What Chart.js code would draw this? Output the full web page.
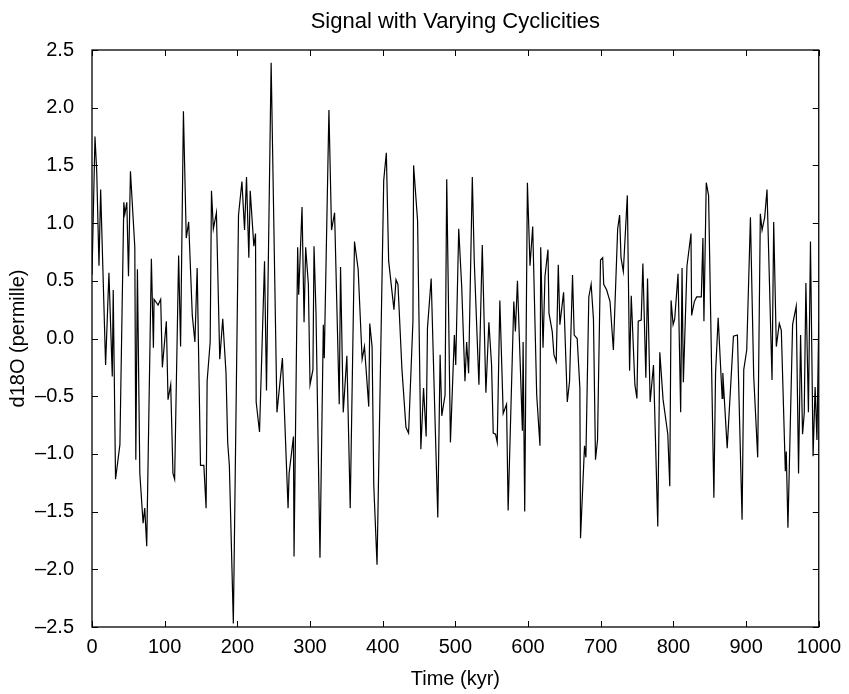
<!DOCTYPE html>
<html>
<head>
<meta charset="utf-8">
<script src="https://cdn.jsdelivr.net/npm/chart.js@4/dist/chart.umd.min.js"></script>
<style>
  html,body{margin:0;padding:0;background:#fff;}
  #wrap{width:849px;height:694px;}
</style>
</head>
<body>
<div id="wrap"><canvas id="c"></canvas></div>
<script>
/* Signal with Varying Cyclicities — d18O vs time */
const timeKyr=[0,4.1,6.5,9.6,11.9,18.7,23.3,27.9,29.2,32.4,38.4,43.8,45.2,47.9,50.2,52.9,58.9,60.3,62.5,65.8,70.3,72.6,75.3,81.7,84.5,85.4,90.9,94.5,96.8,102.3,104.6,108.3,111.4,113.7,119.2,121.9,125.8,
  129.7,133,138,141.6,144.7,149.3,153.9,157,158.4,162.6,164.4,167,171.2,175.8,179.9,184.4,186.7,189,194.5,201.6,206.3,209.9,212.6,215.8,217.7,222.7,225,225.9,230.5,237.4,240.1,246.5,254.5,
  262,269.8,271.2,277.2,278,283,284.4,289,291.8,294,297.7,300,304,305.5,308.2,313.7,318.3,319.6,326,329.6,333.8,340.2,342,345.7,350.7,355.3,361.2,366.2,371.7,374.9,380.8,382.2,385.4,
  387.7,392.2,401.4,405,408.2,415.5,418.3,421,426.5,432,435.6,441.6,442.5,448,452.5,456.2,459.8,461.6,466.7,471.5,475.8,479,481.3,485.8,488.1,493.2,498.6,500.5,504.6,508.7,513.2,515.5,518.2,
  523.3,526,532.4,537,542,546.1,549.8,552.1,555.3,557.6,561.2,565.8,570.4,572.6,580.4,582.6,585.4,589.5,592.2,593.2,595.4,599.1,602.7,606.4,611.9,616.4,617.4,620.6,623.3,627.4,628.8,633.3,635.6,638.8,641.6,643.8,
  648.9,654,657.1,661.2,663.5,667.6,671.3,672.2,677.7,679.6,683.6,686.8,690,692.8,695.6,699.7,702.7,704.1,708.2,712.8,717.4,723.3,726,727.9,731.1,736.6,739.7,742,747,749.8,751.6,755.7,758,762.1,764.4,768,772.6,
  778.5,781.3,785.8,792.3,795,796.8,799.6,801.8,806.4,810,811.9,813.7,818.7,824.2,825.1,828.8,832,838.4,840.6,842,845.2,848.4,855.7,858,861.6,867.1,868,874,882.6,888.1,894.5,896.8,900.9,906,
  910.5,916,919.6,922,925.6,928.8,935.7,938,941.6,945.7,948.5,954,955.3,957.6,964,969,972.2,975,977.7,980,982.3,985.8,988.6,992.2,995,997.5,1000];
const d18O=[0.55,1.75,1.45,0.63,1.29,-0.23,0.57,-0.33,0.42,-1.22,-0.92,1.18,1.08,1.18,0.54,1.45,0.79,-1.05,0.6,-1.17,-1.6,-1.47,-1.8,0.69,-0.08,0.34,0.29,0.34,-0.25,0.15,-0.53,-0.4,-1.17,-1.22,0.72,-0.07,1.97,
  0.87,1.01,0.2,-0.03,0.61,-1.1,-1.1,-1.47,-0.37,-0.03,1.28,0.95,1.09,-0.18,0.17,-0.3,-0.9,-1.1,-2.47,1.07,1.36,0.94,1.4,0.7,1.28,0.8,0.91,-0.55,-0.81,0.67,-0.45,2.39,-0.64,
  -0.17,-1.47,-1.17,-0.85,-1.89,0.79,0.38,1.14,0.14,0.79,0.47,-0.4,-0.27,0.8,0.23,-1.9,0.12,-0.17,1.98,0.94,1.09,-0.57,0.62,-0.64,-0.15,-1.47,0.84,0.6,-0.18,-0.07,-0.59,0.13,-0.07,
  -1.27,-1.96,1.37,1.61,0.67,0.25,0.51,0.47,-0.27,-0.77,-0.82,0.15,1.5,1.02,-0.96,-0.43,-0.85,0.09,0.52,-0.59,-1.55,-0.14,-0.67,-0.49,1.38,-0.9,0.03,-0.23,0.95,0.45,-0.37,-0.03,-0.3,
  1.4,0.67,-0.4,0.81,-0.47,0.14,-0.23,-0.82,-0.83,-0.9,0.33,-0.65,-0.57,-1.49,0.32,0.06,0.5,-0.27,-0.8,-0.03,-1.5,1.35,0.63,0.97,-0.49,-0.93,0.79,-0.08,0.54,0.77,0.22,0.06,-0.14,-0.2,0.64,0.12,
  0.4,-0.55,-0.37,0.55,0.03,0,-0.43,-1.73,-0.93,-1.03,0.36,0.47,0.17,-1.05,-0.88,0.68,0.7,0.47,0.42,0.32,-0.1,0.95,1.07,0.7,0.58,1.24,-0.28,0.37,-0.4,-0.52,0.15,0.16,0.65,-0.34,0.52,-0.55,-0.23,
  -1.63,-0.12,-0.53,-0.83,-1.28,0.33,0.12,0.17,0.56,-0.64,0.61,-0.38,0.63,0.91,0.2,0.32,0.36,0.36,0.87,0.15,1.35,1.24,-1.38,-0.3,0.18,-0.52,-0.3,-0.95,0.02,0.03,-1.57,-0.27,-0.1,1.05,
  -0.33,-1.03,1.08,0.94,1.05,1.29,-0.36,1.01,-0.07,0.13,0.07,-1.15,-0.98,-1.64,0.12,0.28,-1.17,0.03,-0.83,-0.65,0.48,-0.64,0.84,-1.02,-0.42,-0.88,0.15];
const xTicks=[0,100,200,300,400,500,600,700,800,900,1000];
const yTicks=[-2.5,-2,-1.5,-1,-0.5,0,0.5,1,1.5,2,2.5];

(function(){
  const FONT='"Liberation Sans", Arial, Helvetica, sans-serif', INK='#000';
  const pts=timeKyr.map((t,i)=>({x:t,y:d18O[i]}));

  // frame on all four sides + inward tick marks (ticks mirrored top/right)
  const frameTicks={id:'frameTicks',afterDraw(c){
    const {ctx,chartArea:a,scales:{x,y}}=c, L=6;
    ctx.save();ctx.strokeStyle=INK;ctx.lineWidth=1.3;
    ctx.strokeRect(a.left,a.top,a.right-a.left,a.bottom-a.top);
    ctx.lineWidth=1;ctx.beginPath();
    x.ticks.forEach(t=>{const p=Math.round(x.getPixelForValue(t.value))+0.5;
      ctx.moveTo(p,a.bottom);ctx.lineTo(p,a.bottom-L);ctx.moveTo(p,a.top);ctx.lineTo(p,a.top+L);});
    y.ticks.forEach(t=>{const p=Math.round(y.getPixelForValue(t.value))+0.5;
      ctx.moveTo(a.left,p);ctx.lineTo(a.left+L,p);ctx.moveTo(a.right,p);ctx.lineTo(a.right-L,p);});
    ctx.stroke();ctx.restore();
  }};

  new Chart(document.getElementById('c'),{
    type:'line',
    data:{datasets:[{data:pts,borderColor:INK,borderWidth:1.2,pointRadius:0,tension:0,fill:false}]},
    options:{
      responsive:true,maintainAspectRatio:false,animation:false,
      layout:{padding:{left:0,right:27,top:0,bottom:0}},
      plugins:{legend:{display:false},tooltip:{enabled:false},
        title:{display:true,fullSize:false,text:'Signal with Varying Cyclicities',color:INK,
          font:{family:FONT,size:22,weight:'normal'},padding:{top:9,bottom:14.6}}},
      scales:{
        x:{type:'linear',min:0,max:1000,
          afterBuildTicks:s=>{s.ticks=xTicks.map(v=>({value:v}));},
          afterFit:s=>{s.height=67;},
          grid:{display:false,drawTicks:false},border:{display:false},
          ticks:{color:INK,padding:8,maxRotation:0,autoSkip:false,font:{family:FONT,size:20},callback:v=>String(v)},
          title:{display:true,text:'Time (kyr)',color:INK,font:{family:FONT,size:20},padding:{top:2,bottom:3}}},
        y:{type:'linear',min:-2.5,max:2.5,
          afterBuildTicks:s=>{s.ticks=yTicks.map(v=>({value:v}));},
          afterFit:s=>{s.width=92;},
          grid:{display:false,drawTicks:false},border:{display:false},
          ticks:{color:INK,padding:18,autoSkip:false,font:{family:FONT,size:20},
            callback:v=>(v<0?'\u2013':'')+Math.abs(v).toFixed(1)},
          title:{display:true,text:'d18O (permille)',color:INK,font:{family:FONT,size:20},padding:{top:6,bottom:0}}}
      }
    },
    plugins:[frameTicks]
  });
})();
</script>
</body>
</html>
